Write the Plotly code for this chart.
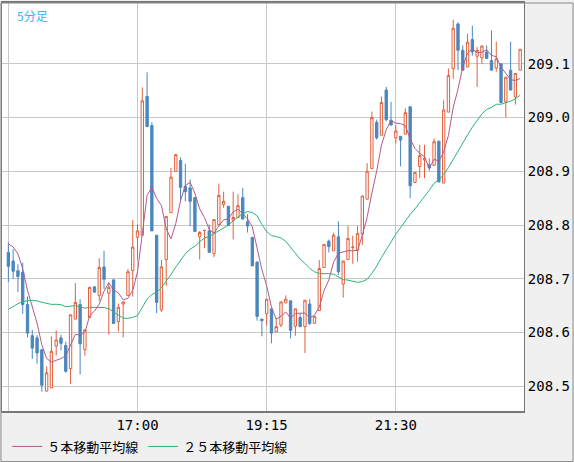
import pandas as pd
import plotly.graph_objects as go

# 5-minute bars, 14:45 - 23:40
opens = [208.749, 208.733, 208.715, 208.712, 208.652, 208.594, 208.590, 208.568, 208.491, 208.497,
         208.575, 208.590, 208.576, 208.533, 208.625, 208.652, 208.568, 208.628, 208.685, 208.669,
         208.722, 208.673, 208.698, 208.620, 208.653, 208.669, 208.715, 208.777, 208.781, 209.039,
         208.985, 208.781, 208.642, 208.736, 208.823, 208.900, 208.920, 208.872, 208.869, 208.851,
         208.778, 208.790, 208.789, 208.747, 208.801, 208.838, 208.835, 208.809, 208.814, 208.851,
         208.806, 208.777, 208.731, 208.625, 208.635, 208.644, 208.601, 208.614, 208.655, 208.659,
         208.612, 208.628, 208.611, 208.653, 208.617, 208.641, 208.721, 208.770, 208.752, 208.778,
         208.690, 208.736, 208.758, 208.753, 208.783, 208.848, 208.905, 208.991, 208.967, 209.051,
         208.995, 208.962, 208.965, 208.969, 209.020, 208.879, 208.909, 208.921, 208.912, 208.911,
         208.956, 208.878, 209.010, 209.091, 209.174, 209.125, 209.094, 209.145, 209.114, 209.111,
         209.122, 209.106, 209.092, 209.100, 209.029, 209.088, 209.038, 209.088]
highs = [208.768, 208.755, 208.727, 208.730, 208.667, 208.605, 208.595, 208.568, 208.537, 208.593,
         208.604, 208.596, 208.583, 208.633, 208.692, 208.662, 208.605, 208.685, 208.685, 208.738,
         208.752, 208.693, 208.698, 208.654, 208.657, 208.718, 208.809, 208.801, 209.056, 209.084,
         208.991, 208.781, 208.735, 208.816, 208.906, 208.931, 208.926, 208.914, 208.885, 208.851,
         208.789, 208.790, 208.801, 208.810, 208.877, 208.862, 208.835, 208.862, 208.857, 208.869,
         208.820, 208.777, 208.732, 208.625, 208.662, 208.644, 208.627, 208.657, 208.669, 208.659,
         208.644, 208.635, 208.660, 208.662, 208.630, 208.735, 208.764, 208.773, 208.786, 208.807,
         208.733, 208.798, 208.780, 208.798, 208.854, 208.915, 209.011, 208.996, 209.039, 209.057,
         209.029, 208.986, 208.965, 209.017, 209.020, 208.898, 208.949, 208.949, 208.924, 208.961,
         208.956, 209.032, 209.091, 209.182, 209.177, 209.134, 209.156, 209.171, 209.131, 209.134,
         209.134, 209.162, 209.141, 209.100, 209.075, 209.141, 209.082, 209.127]
lows = [208.694, 208.700, 208.675, 208.635, 208.591, 208.551, 208.542, 208.490, 208.491, 208.497,
        208.557, 208.567, 208.525, 208.504, 208.625, 208.522, 208.557, 208.628, 208.675, 208.659,
        208.681, 208.596, 208.617, 208.602, 208.591, 208.669, 208.667, 208.736, 208.781, 208.983,
        208.789, 208.636, 208.638, 208.687, 208.823, 208.900, 208.844, 208.844, 208.798, 208.788,
        208.736, 208.757, 208.749, 208.740, 208.801, 208.832, 208.799, 208.773, 208.814, 208.811,
        208.786, 208.724, 208.622, 208.593, 208.613, 208.580, 208.601, 208.610, 208.655, 208.589,
        208.594, 208.610, 208.562, 208.614, 208.617, 208.641, 208.721, 208.749, 208.752, 208.707,
        208.665, 208.736, 208.728, 208.732, 208.763, 208.848, 208.905, 208.959, 208.967, 208.993,
        208.985, 208.952, 208.909, 208.969, 208.850, 208.879, 208.887, 208.887, 208.901, 208.911,
        208.880, 208.878, 209.010, 209.072, 209.088, 209.088, 209.094, 209.115, 209.057, 209.100,
        209.109, 209.088, 209.085, 209.026, 209.000, 209.051, 209.024, 209.088]
closes = [208.723, 208.714, 208.704, 208.652, 208.599, 208.571, 208.562, 208.502, 208.525, 208.565,
          208.586, 208.580, 208.528, 208.633, 208.656, 208.579, 208.605, 208.684, 208.675, 208.721,
          208.699, 208.684, 208.617, 208.647, 208.657, 208.713, 208.759, 208.789, 209.031, 208.983,
          208.789, 208.656, 208.722, 208.816, 208.889, 208.931, 208.870, 208.862, 208.844, 208.788,
          208.786, 208.790, 208.749, 208.810, 208.855, 208.844, 208.799, 208.814, 208.836, 208.811,
          208.798, 208.724, 208.630, 208.622, 208.662, 208.599, 208.611, 208.657, 208.662, 208.604,
          208.644, 208.611, 208.660, 208.617, 208.630, 208.719, 208.764, 208.760, 208.781, 208.713,
          208.733, 208.775, 208.759, 208.784, 208.854, 208.900, 209.000, 208.962, 209.028, 208.996,
          208.986, 208.975, 208.958, 209.009, 208.873, 208.898, 208.929, 208.924, 208.906, 208.955,
          208.880, 209.014, 209.078, 209.166, 209.125, 209.088, 209.140, 209.122, 209.125, 209.133,
          209.110, 209.088, 209.109, 209.028, 209.075, 209.051, 209.082, 209.127]
# closes before the first visible bar (feed the moving averages)
prior_closes = [208.58, 208.57, 208.56, 208.55, 208.56, 208.58, 208.57, 208.59, 208.60, 208.58,
                208.60, 208.62, 208.61, 208.63, 208.64, 208.66, 208.65, 208.68, 208.70, 208.72,
                208.74, 208.77, 208.79, 208.80]

y_ticks = [208.5, 208.6, 208.7, 208.8, 208.9, 209.0, 209.1]
x_tick_times = ["14:45", "17:00", "19:15", "21:30"]
x_tick_labels = ["", "17:00", "19:15", "21:30"]

times = pd.date_range("2024-01-01 14:45", periods=len(closes), freq="5min")
allc = pd.Series(prior_closes + closes)
ma5 = allc.rolling(5).mean().iloc[len(prior_closes):].tolist()
ma25 = allc.rolling(25).mean().iloc[len(prior_closes):].tolist()

UP = "#e0603c"
DOWN = "#4a87bf"

fig = go.Figure()
fig.add_trace(go.Candlestick(
    x=times, open=opens, high=highs, low=lows, close=closes,
    increasing=dict(line=dict(color=UP, width=1), fillcolor="white"),
    decreasing=dict(line=dict(color=DOWN, width=1), fillcolor=DOWN),
    whiskerwidth=0, showlegend=False, hoverinfo="skip"))
fig.add_trace(go.Scatter(x=times, y=ma5, mode="lines", name="５本移動平均線",
                         line=dict(color="#b5598c", width=1)))
fig.add_trace(go.Scatter(x=times, y=ma25, mode="lines", name="２５本移動平均線",
                         line=dict(color="#2ab673", width=1)))

tickvals = [pd.Timestamp("2024-01-01 " + t) for t in x_tick_times]
step = pd.Timedelta(minutes=5)

fig.update_layout(
    width=574, height=462,
    margin=dict(l=1, r=50, t=1, b=50),
    paper_bgcolor="#f0f0f0", plot_bgcolor="white",
    font=dict(family="DejaVu Sans Mono, Noto Sans CJK JP", size=13, color="black"),
    showlegend=True,
    legend=dict(orientation="h", x=0.01, y=-0.087, yanchor="middle", xanchor="left",
                bgcolor="rgba(0,0,0,0)", font=dict(family="Noto Sans CJK JP", size=13),
                itemwidth=30),
    annotations=[dict(text="5分足", x=0.025, y=0.995, xref="paper", yref="paper",
                      xanchor="left", yanchor="top", showarrow=False,
                      font=dict(family="Noto Sans CJK JP", color="#33b5ee", size=12))],
    shapes=[dict(type="rect", xref="paper", yref="paper", x0=-0.002, x1=1.094, y0=-0.124, y1=1.0,
                 line=dict(color="#888", width=1))],
)
fig.update_xaxes(
    range=[times[0] - 1.33 * step, times[-1] + 0.8 * step],
    tickvals=tickvals, ticktext=x_tick_labels, showgrid=True, gridcolor="#c8c8c8",
    ticks="", showline=True, linecolor="#777", mirror=True, linewidth=2,
    rangeslider=dict(visible=False), tickfont=dict(size=14), zeroline=False)
fig.update_yaxes(
    side="right", range=[208.454, 209.213], tickvals=y_ticks, ticktext=[f"{v:.1f}" for v in y_ticks],
    showgrid=True, gridcolor="#c8c8c8", showline=True, linecolor="#777", mirror=True, linewidth=1,
    ticks="", tickfont=dict(size=14), zeroline=False)

fig.write_html("out.html", config={"displayModeBar": False},
               post_script="document.body.style.margin='0';")
